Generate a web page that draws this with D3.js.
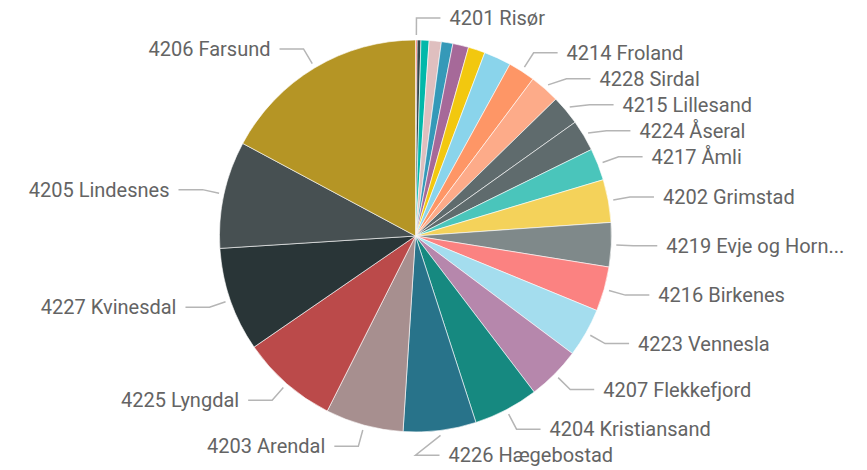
<!DOCTYPE html>
<html>
<head>
<meta charset="utf-8">
<script src="https://cdn.jsdelivr.net/npm/d3@7"></script>
<style>
  body { margin: 0; background: #fff; }
  .label { font-family: Roboto, "DejaVu Sans", sans-serif; font-size: 20px; fill: #646464; }
  .leader { fill: none; stroke: #b5b5b5; stroke-width: 1.5; }
</style>
</head>
<body>
<div id="chart"></div>
<script>
// slices, clockwise from 12 o'clock
var municipalities = [
  "4201 Risør", "4221 Valle", "4222 Bykle", "4212 Vegårshei", "4220 Bygland",
  "4211 Gjerstad", "4218 Iveland", "4213 Tvedestrand", "4214 Froland", "4228 Sirdal",
  "4215 Lillesand", "4224 Åseral", "4217 Åmli", "4202 Grimstad", "4219 Evje og Hornnes",
  "4216 Birkenes", "4223 Vennesla", "4207 Flekkefjord", "4204 Kristiansand", "4226 Hægebostad",
  "4203 Arendal", "4225 Lyngdal", "4227 Kvinesdal", "4205 Lindesnes", "4206 Farsund"
];

var values = [
  0.5, 1.1, 2.4, 3.6, 3.4,
  4.7, 5.0, 8.1, 8.0, 8.9,
  8.8, 9.3, 9.5, 12.7, 13.1,
  13.2, 14.5, 15.9, 19.3, 21.6,
  23.1, 28.7, 30.9, 31.8, 61.8
];

var colors = [
  "#FD625E", "#374649", "#01B8AA", "#DFBFBF", "#3599B8",
  "#A66999", "#F2C80F", "#8AD4EB", "#FE9666", "#FDAB89",
  "#5F6B6D", "#5F6B6D", "#4AC5BB", "#F4D25A", "#7F898A",
  "#FB8281", "#A4DDEE", "#B687AC", "#168980", "#28738A",
  "#A78F8F", "#BB4A4A", "#293537", "#475052", "#B59525"
];

// small slices with no room for a label
var hiddenLabels = [
  "4221 Valle", "4222 Bykle", "4212 Vegårshei", "4220 Bygland",
  "4211 Gjerstad", "4218 Iveland", "4213 Tvedestrand"
];

var svgWidth = 867;
var svgHeight = 470;
var cx = 415.5;
var cy = 236;
var radius = 196;

var svg = d3.select("#chart")
  .append("svg")
  .attr("width", svgWidth)
  .attr("height", svgHeight);

var data = municipalities.map(function(name, i) {
  return { name: name, value: values[i], color: colors[i] };
});

var pie = d3.pie()
  .sort(null)
  .value(d => d.value);

var arcs = pie(data);

var arc = d3.arc()
  .innerRadius(0)
  .outerRadius(radius);

var chartGroup = svg.append("g")
  .attr("transform", `translate(${cx}, ${cy})`);

chartGroup.selectAll("path")
  .data(arcs)
  .enter()
  .append("path")
  .attr("d", arc)
  .attr("fill", d => d.data.color)
  .attr("stroke", "#fff")
  .attr("stroke-width", 0.6);

// label layout: start near rim, knee on a bigger circle, then horizontal
var startR = radius + 5;
var kneeR = radius + 22;
var gap = 26;

var labels = arcs
  .filter(d => hiddenLabels.indexOf(d.data.name) < 0)
  .map(function(d) {
    var mid = (d.startAngle + d.endAngle) / 2;
    return {
      d: d,
      mid: mid,
      side: Math.sin(mid) >= 0 ? 1 : -1,
      y: -kneeR * Math.cos(mid)
    };
  });

[1, -1].forEach(function(side) {
  var group = labels.filter(l => l.side === side).sort((a, b) => a.y - b.y);
  for (var i = 1; i < group.length; i++) {
    if (group[i].y < group[i - 1].y + gap) group[i].y = group[i - 1].y + gap;
  }
});

var labelGroup = chartGroup.append("g");

labels.forEach(function(l) {
  var sx = startR * Math.sin(l.mid);
  var sy = -startR * Math.cos(l.mid);
  var kx = l.side * Math.sqrt(Math.max(0, kneeR * kneeR - l.y * l.y));
  var ex = kx + l.side * 24;

  labelGroup.append("path")
    .attr("class", "leader")
    .attr("d", d3.line()([[sx, sy], [kx, l.y], [ex, l.y]]));

  var tx = ex + l.side * 9;
  var text = labelGroup.append("text")
    .attr("class", "label")
    .attr("x", tx)
    .attr("y", l.y)
    .attr("dy", "0.35em")
    .attr("text-anchor", l.side > 0 ? "start" : "end")
    .text(l.d.data.name);

  // shorten names that run off the edge
  var room = l.side > 0 ? svgWidth - (cx + tx) - 20 : cx + tx - 20;
  var name = l.d.data.name;
  if (text.node().getComputedTextLength() > room) {
    while (name.length > 1) {
      name = name.slice(0, -1);
      text.text(name.trim() + "...");
      if (text.node().getComputedTextLength() <= room) break;
    }
  }
});
</script>
</body>
</html>
